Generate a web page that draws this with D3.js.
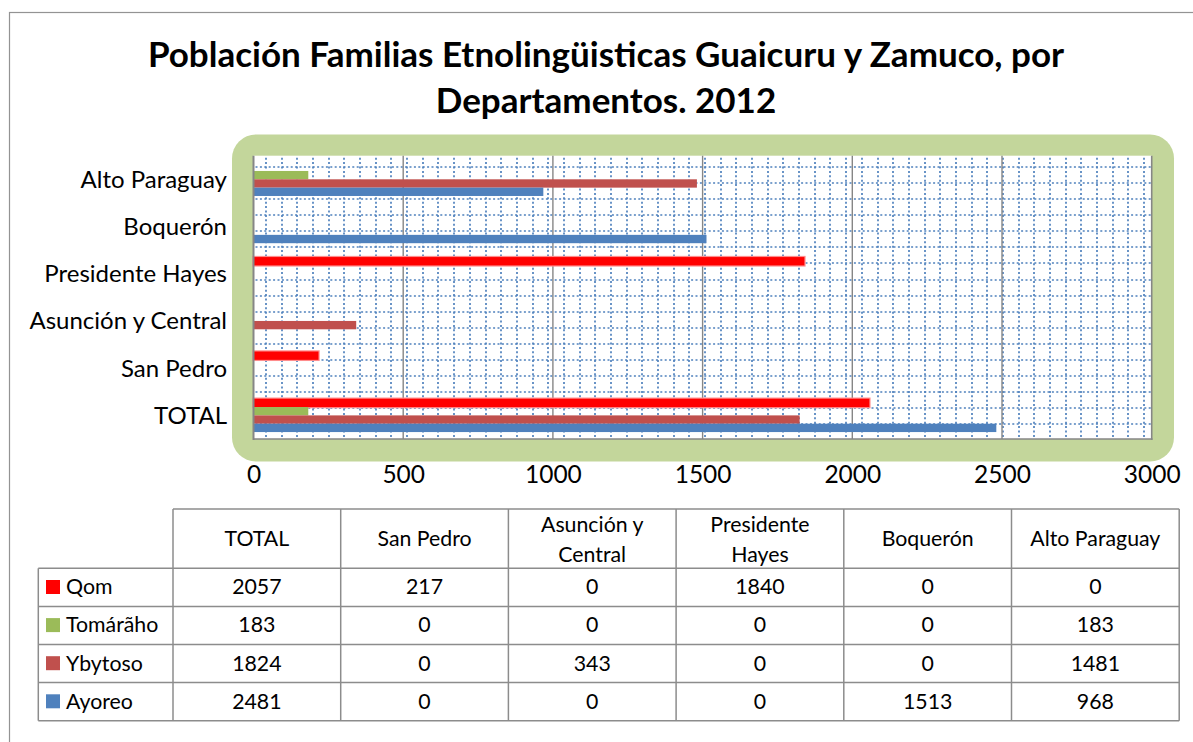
<!DOCTYPE html>
<html>
<head>
<meta charset="utf-8">
<script src="https://cdn.jsdelivr.net/npm/d3@7"></script>
<style>
  html, body { margin: 0; padding: 0; background: #fff; }
  svg { display: block; font-family: Lato, "Open Sans", sans-serif; }
</style>
</head>
<body>
<svg id="chart" width="1193" height="742"></svg>
<script>
// ---- data ----
const categories = ["TOTAL", "San Pedro", "Asunción y Central", "Presidente Hayes", "Boquerón", "Alto Paraguay"];
const tableHeaders = [["TOTAL"], ["San Pedro"], ["Asunción y", "Central"], ["Presidente", "Hayes"], ["Boquerón"], ["Alto Paraguay"]];
const seriesNames = ["Qom", "Tomárãho", "Ybytoso", "Ayoreo"];
const qom      = [2057, 217, 0, 1840, 0, 0];
const tomaraho = [183, 0, 0, 0, 0, 183];
const ybytoso  = [1824, 0, 343, 0, 0, 1481];
const ayoreo   = [2481, 0, 0, 0, 1513, 968];
const seriesColors = ["#ff0000", "#9bbb59", "#c0504d", "#4f81bd"];
const xTicks = [0, 500, 1000, 1500, 2000, 2500, 3000];
const titleLines = ["Población Familias Etnolingüisticas Guaicuru y Zamuco, por", "Departamentos. 2012"];

const seriesValues = [qom, tomaraho, ybytoso, ayoreo];

// ---- layout ----
const svg = d3.select("#chart");
const plot = { left: 253.5, right: 1151.7, top: 155.7, bottom: 439 };

// outer frame
svg.append("rect").attr("x", 9.5).attr("y", 12.5).attr("width", 1200).attr("height", 760)
  .attr("fill", "none").attr("stroke", "#939393").attr("stroke-width", 1.2);

// title
const titleG = svg.append("g").attr("font-weight", "bold").attr("fill", "#000").attr("text-anchor", "middle");
titleLines.forEach((t, i) => {
  titleG.append("text").attr("x", 606).attr("y", 66.7 + i * 46.6)
    .attr("font-size", 35).text(t);
});

// green rounded backdrop
svg.append("rect").attr("x", 232).attr("y", 134.5).attr("width", 942).attr("height", 327)
  .attr("rx", 24).attr("ry", 24).attr("fill", "#c3d69b");

// plot area
svg.append("rect").attr("x", plot.left).attr("y", plot.top)
  .attr("width", plot.right - plot.left).attr("height", plot.bottom - plot.top).attr("fill", "#fff");

const x = d3.scaleLinear().domain([0, 3000]).range([plot.left, plot.right]);
const y = d3.scaleBand().domain(categories.slice().reverse()).range([plot.top, plot.bottom])
  .paddingInner(0.294).paddingOuter(0.147);
const ySub = d3.scaleBand().domain(seriesNames).range([0, y.bandwidth()]);

// dotted pattern grid (plot-area fill)
const dotted = svg.append("g").attr("stroke", "#4f81bd").attr("stroke-width", 1.7)
  .attr("stroke-dasharray", "2,2.4");
d3.range(266, plot.right - 2, 15.68).forEach(px => {
  const p = Math.round(px);
  dotted.append("line").attr("x1", p).attr("x2", p).attr("y1", plot.top + 2).attr("y2", plot.bottom);
});
d3.range(167.3, plot.bottom - 2, 16.03).forEach(py => {
  const p = Math.round(py);
  dotted.append("line").attr("x1", plot.left + 2).attr("x2", plot.right).attr("y1", p).attr("y2", p);
});

// major gridlines
svg.append("g").selectAll("line").data(xTicks.filter(v => v > 0 && v < 3000)).join("line")
  .attr("x1", d => x(d)).attr("x2", d => x(d)).attr("y1", plot.top).attr("y2", plot.bottom)
  .attr("stroke", "#868686").attr("stroke-width", 1.4);

// bars
const barData = [];
categories.forEach((c, ci) => {
  seriesNames.forEach((s, si) => {
    const v = seriesValues[si][ci];
    if (v > 0) barData.push({ cat: c, series: s, value: v, color: seriesColors[si] });
  });
});
svg.append("g").selectAll("rect").data(barData).join("rect")
  .attr("x", x(0))
  .attr("y", d => y(d.cat) + ySub(d.series))
  .attr("width", d => x(d.value) - x(0))
  .attr("height", ySub.bandwidth())
  .attr("fill", d => d.color)
  .attr("stroke", d => d.series === "Qom" ? "#ff8c8c" : "none")
  .attr("stroke-width", 2.4)
  .style("paint-order", "stroke");

// plot border (left, right, bottom)
const border = svg.append("g").attr("stroke", "#868686").attr("fill", "none");
border.append("line").attr("x1", plot.left).attr("x2", plot.left).attr("y1", plot.top).attr("y2", plot.bottom + 1).attr("stroke-width", 2);
border.append("line").attr("x1", plot.right).attr("x2", plot.right).attr("y1", plot.top).attr("y2", plot.bottom + 1).attr("stroke-width", 1.6);
border.append("line").attr("x1", plot.left).attr("x2", plot.right + 0.8).attr("y1", plot.bottom).attr("y2", plot.bottom).attr("stroke-width", 1.6);

// y axis labels
const yAxis = svg.append("g").attr("transform", `translate(${plot.left},0)`)
  .call(d3.axisLeft(y).tickSize(0).tickPadding(26.5));
yAxis.select(".domain").remove();
yAxis.selectAll("text").attr("font-size", 24).attr("font-family", "Lato").attr("fill", "#000").attr("dy", "0.35em");

// x axis labels
const xAxis = svg.append("g").attr("transform", `translate(0,${plot.bottom})`)
  .call(d3.axisBottom(x).tickValues(xTicks).tickSize(0).tickPadding(0).tickFormat(d3.format("d")));
xAxis.select(".domain").remove();
xAxis.selectAll("text").attr("font-size", 24.5).attr("font-family", "Lato").attr("fill", "#000")
  .attr("dy", null).attr("y", 44.3);

// ---- data table ----
const colX = d3.range(7).map(i => 173 + i * 167.7);
const legendLeft = 38.3;
const headerTop = 509, headerBottom = 568.3, rowH = 38.1;
const rowY = d3.range(5).map(i => headerBottom + i * rowH);
const tbl = svg.append("g");
const lines = tbl.append("g").attr("stroke", "#8c8c8c").attr("stroke-width", 1.5);
lines.append("line").attr("x1", colX[0]).attr("x2", colX[6]).attr("y1", headerTop).attr("y2", headerTop);
rowY.forEach(ry => lines.append("line").attr("x1", legendLeft).attr("x2", colX[6]).attr("y1", ry).attr("y2", ry));
colX.forEach(cx => lines.append("line").attr("x1", cx).attr("x2", cx).attr("y1", headerTop).attr("y2", rowY[4]));
lines.append("line").attr("x1", legendLeft).attr("x2", legendLeft).attr("y1", headerBottom).attr("y2", rowY[4]);

const tfs = 21.3;
// headers
tableHeaders.forEach((h, i) => {
  const cx = (colX[i] + colX[i + 1]) / 2;
  const t = tbl.append("text").attr("x", cx).attr("text-anchor", "middle").attr("font-size", tfs).attr("fill", "#000");
  if (h.length === 1) {
    t.attr("y", 545.7).text(h[0]);
  } else {
    t.append("tspan").attr("x", cx).attr("y", 531.7).text(h[0]);
    t.append("tspan").attr("x", cx).attr("y", 561.7).text(h[1]);
  }
});
// rows
seriesNames.forEach((s, si) => {
  const top = rowY[si];
  tbl.append("rect").attr("x", 46).attr("y", top + 11.7).attr("width", 14).attr("height", 14).attr("fill", seriesColors[si]);
  tbl.append("text").attr("x", 66).attr("y", top + 26).attr("font-size", tfs).attr("fill", "#000").text(s);
  seriesValues[si].forEach((v, ci) => {
    tbl.append("text").attr("x", (colX[ci] + colX[ci + 1]) / 2).attr("y", top + 26)
      .attr("text-anchor", "middle").attr("font-size", tfs).attr("fill", "#000").text(v);
  });
});
</script>
</body>
</html>
